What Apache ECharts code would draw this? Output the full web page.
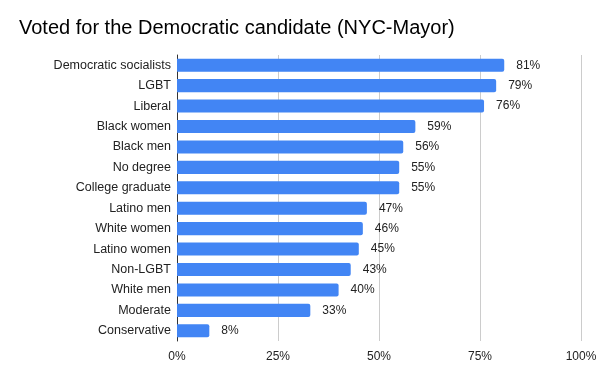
<!DOCTYPE html>
<html>
<head>
<meta charset="utf-8">
<script src="https://cdn.jsdelivr.net/npm/echarts@6/dist/echarts.min.js"></script>
<style>html,body{margin:0;padding:0;background:#fff;}#c{width:600px;height:371px;}</style>
</head>
<body>
<div id="c"></div>
<script>
const categories = ["Democratic socialists","LGBT","Liberal","Black women","Black men","No degree","College graduate","Latino men","White women","Latino women","Non-LGBT","White men","Moderate","Conservative"];
const values = [81,79,76,59,56,55,55,47,46,45,43,40,33,8];
const xTicks = [0,25,50,75,100];

const chart = echarts.init(document.getElementById('c'));
chart.setOption({
  animation: false,
  backgroundColor: '#ffffff',
  title: {
    text: 'Voted for the Democratic candidate (NYC-Mayor)',
    left: 14, top: 13,
    textStyle: {fontFamily: 'Liberation Sans, Arial', fontSize: 20, fontWeight: 'normal', color: '#000'}
  },
  grid: {left: 177, right: 19, top: 55, bottom: 30, containLabel: false},
  xAxis: {
    type: 'value', min: 0, max: 100, interval: 25,
    axisLine: {show: false}, axisTick: {show: false},
    splitLine: {lineStyle: {color: '#cccccc', width: 1}},
    axisLabel: {formatter: v => v + '%', color: '#222', fontFamily: 'Liberation Sans, Arial', fontSize: 12, margin: 10}
  },
  yAxis: {
    type: 'category', data: categories, inverse: true,
    axisLine: {show: true, lineStyle: {color: '#333', width: 1}},
    axisTick: {show: false},
    axisLabel: {color: '#222', fontFamily: 'Liberation Sans, Arial', fontSize: 12.5, margin: 6}
  },
  series: [{
    type: 'bar', data: values, barCategoryGap: '36%',
    itemStyle: {color: '#4285F4', borderRadius: [0, 2, 2, 0]},
    label: {show: true, position: 'right', distance: 12, formatter: p => p.value + '%', color: '#222', fontFamily: 'Liberation Sans, Arial', fontSize: 12}
  }]
});
</script>
</body>
</html>
